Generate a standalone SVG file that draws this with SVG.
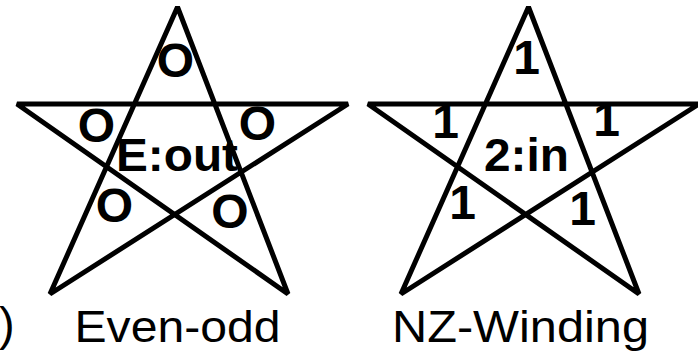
<svg xmlns="http://www.w3.org/2000/svg" width="698" height="352" viewBox="0 0 698 352">
  <style>
    .star { fill: none; stroke: #000; stroke-width: 5; stroke-linejoin: bevel; }
    .lbl { font-family: "Liberation Sans", Arial, sans-serif; font-weight: bold; font-size: 48px; fill: #000; text-anchor: middle; }
    .lblL { font-family: "Liberation Sans", Arial, sans-serif; font-weight: bold; font-size: 46px; fill: #000; }
    .cap { font-family: "Liberation Sans", Arial, sans-serif; font-size: 44px; fill: #000; }
  </style>
  <rect width="698" height="352" fill="#fff"/>
  <g id="star-evenodd">
    <path class="star" d="M177.5,7 L50,294 L348,104 L17,104 L288,294 Z"/>
    <text class="lbl" x="175.5" y="77">O</text>
    <text class="lbl" x="96.5" y="142">O</text>
    <text class="lbl" x="257.5" y="140">O</text>
    <text class="lbl" x="114.5" y="222">O</text>
    <text class="lbl" x="230" y="228">O</text>
    <text class="lblL" x="116" y="171" textLength="122" lengthAdjust="spacingAndGlyphs">E:out</text>
  </g>
  <g id="star-nonzero">
    <path class="star" d="M528.5,7 L401,294 L699,104 L368,104 L639,294 Z"/>
    <text class="lbl" x="526.5" y="74">1</text>
    <text class="lbl" x="445.5" y="138">1</text>
    <text class="lbl" x="606.5" y="136">1</text>
    <text class="lbl" x="462.5" y="219">1</text>
    <text class="lbl" x="582.5" y="225">1</text>
    <text class="lblL" x="484" y="171" textLength="85" lengthAdjust="spacingAndGlyphs">2:in</text>
  </g>
  <g id="captions">
    <text class="cap" x="-1" y="340" style="font-size:47px">)</text>
    <text class="cap" x="74.5" y="342" textLength="206" lengthAdjust="spacingAndGlyphs">Even-odd</text>
    <text class="cap" x="392" y="342" textLength="257" lengthAdjust="spacingAndGlyphs">NZ-Winding</text>
  </g>
  <g id="connectors"></g>
</svg>
